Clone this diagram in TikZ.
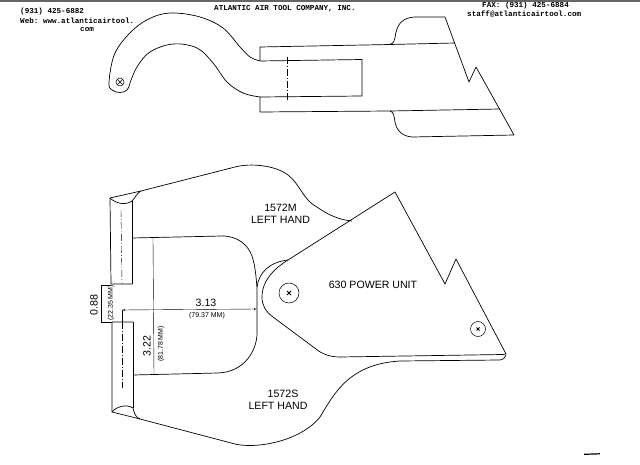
\documentclass[tikz,border=0pt]{standalone}
\usepackage{fontspec}
\setmainfont{Liberation Sans}
\setmonofont{Liberation Mono}
\usetikzlibrary{arrows.meta}
\tikzset{
  outline/.style={line width=0.7pt,line join=round},
  centerline/.style={line width=0.4pt,dash pattern=on 7pt off 2pt on 1pt off 2pt},
  dimline/.style={line width=0.4pt},
  dimarrow/.style={line width=0.4pt,{Latex[length=3pt,width=1.6pt]}-{Latex[length=3pt,width=1.6pt]}},
  head/.style={inner sep=0pt,font=\ttfamily\bfseries\fontsize{7.6}{9}\selectfont},
  partlabel/.style={inner sep=0pt,font=\fontsize{10.6}{11.8}\selectfont},
  dimsmall/.style={inner sep=0pt,font=\fontsize{7}{8}\selectfont}
}
\begin{document}
\begin{tikzpicture}[x=1pt,y=-1pt]
  \useasboundingbox (0,0) rectangle (640,465);
  \fill[black!60] (0,0) rectangle (640,1.6);
  % header
  \node[head,anchor=west] (phone) at (20,12) {(931) 425-6882};
  \node[head,anchor=west] (web) at (20,21) {Web: www.atlanticairtool.};
  \node[head,anchor=west] (webend) at (80,29.5) {com};
  \node[head,anchor=west] (company) at (214,9) {ATLANTIC AIR TOOL COMPANY, INC.};
  \node[head,anchor=west] (fax) at (482,5.5) {FAX: (931) 425-6884};
  \node[head,anchor=west] (mail) at (467,14) {staff@atlanticairtool.com};
  % top view, hook
  \draw[outline] plot[smooth,tension=0.6] coordinates {(130,83) (127,90) (120,92.5) (112,90) (109,82)
    (115,53) (133,30) (153,17) (173,13) (200,17) (223,28) (240,47) (250,57) (260,61)};
  \draw[outline] plot[smooth,tension=0.6] coordinates {(130,83) (137,67) (150,52) (173,44) (197,48)
    (213,63) (227,82) (243,93) (260,97)};
  \draw[outline] (260,61) -- (362,59.5) -- (362,96) -- (260,97);
  \draw[outline] (260,61) -- (260,47) -- (390,44.5) -- (455,43);
  \draw[outline] (260,97) -- (260,112) -- (390,111) -- (500,109);
  \draw[outline] (390,44.5) .. controls (397,42) and (394,35) .. (397,29)
    .. controls (400,20) and (408,17) .. (416,17) -- (445,17)
    -- (469,82) -- (476,67) -- (514,135) -- (412,137)
    .. controls (400,136) and (396,128) .. (395,122)
    .. controls (394,116) and (394,112) .. (390,111);
  \draw[centerline] (287,57) -- (287,100);
  \draw[line width=0.5pt] (120,82) circle (4);
  \draw[line width=0.5pt] (117.2,79.2) -- (122.8,84.8) (117.2,84.8) -- (122.8,79.2);
  % 1572M
  \draw[outline] (132,284) -- (111,284) -- (110,198) -- (141,191) -- (235,167)
    .. controls (250,163) and (275,165) .. (288,175)
    .. controls (300,184) and (303,200) .. (317,207)
    .. controls (328,215) and (340,220) .. (352,221);
  \draw[outline] (132,201) -- (132,284);
  \draw[outline] (110,198) .. controls (115,203) and (125,206) .. (132,201)
    .. controls (135,198) and (137,193) .. (141,191);
  \draw[outline] (132,238) -- (222,236) .. controls (238,236) and (248,245) .. (252,256)
    .. controls (255,265) and (256,275) .. (257,288) -- (257,333)
    .. controls (257,350) and (245,372) .. (218,373) -- (133,375);
  % 1572S
  \draw[outline] (133,322) -- (112,322) -- (112,412) -- (140,419) -- (235,444)
    .. controls (255,449) and (300,442) .. (320,417)
    .. controls (335,392) and (350,364) .. (400,361) -- (500,360)
    .. controls (503,360) and (505,358) .. (506,355);
  \draw[outline] (133,322) -- (133,408);
  \draw[outline] (112,412) .. controls (117,406) and (127,404) .. (133,408)
    .. controls (134,413) and (136,418) .. (140,419);
  \draw[centerline] (121,210) -- (122,284);
  \draw[centerline] (122,322) -- (122,388);
  % power unit
  \draw[outline] (395,192) -- (445,284) -- (456,259) -- (506,354)
    -- (503,354.5) -- (340,357) .. controls (330,357) and (322,354) .. (316,349)
    -- (273,317) .. controls (265,311) and (262,305) .. (262,297)
    .. controls (262,280) and (275,268) .. (288,260) -- cycle;
  \draw[outline] (257,287) .. controls (259,272) and (270,262) .. (288,260);
  \draw[line width=0.5pt] (289,293) circle (10);
  \draw[line width=1pt] (287,291) -- (291,295) (287,295) -- (291,291);
  \draw[line width=0.5pt] (478,329) circle (7.5);
  \draw[line width=1pt] (476.5,327.5) -- (479.5,330.5) (476.5,330.5) -- (479.5,327.5);
  % dimensions
  \draw[dimline] (111,285) -- (101,285) -- (101,322) -- (112,322);
  \draw[dimarrow] (122,310) -- (257,309);
  \draw[dimline] (122,310) -- (122,322);
  \draw[dimline] (153,238) -- (154,375);
  \node[partlabel,rotate=90] (gap) at (94,305) {0.88};
  \node[dimsmall,rotate=90] (gapmm) at (111,303) {(22.35 MM)};
  \node[partlabel] (reach) at (206,303) {3.13};
  \node[dimsmall] (reachmm) at (207,316) {(79.37 MM)};
  \node[partlabel,rotate=90] (depth) at (147,346) {3.22};
  \node[dimsmall,rotate=90] (depthmm) at (161,344) {(81.78 MM)};
  % labels
  \node[partlabel,align=center] (upper) at (280.5,213.5) {1572M\\LEFT HAND};
  \node[partlabel] (unit) at (373,285) {630 POWER UNIT};
  \node[partlabel,align=center] (lower) at (278,400) {\hspace{10pt}1572S\\LEFT HAND};
  % scan mark
  \draw[line width=1.2pt] (584,454.3) -- (600,453.8);
\end{tikzpicture}
\end{document}
